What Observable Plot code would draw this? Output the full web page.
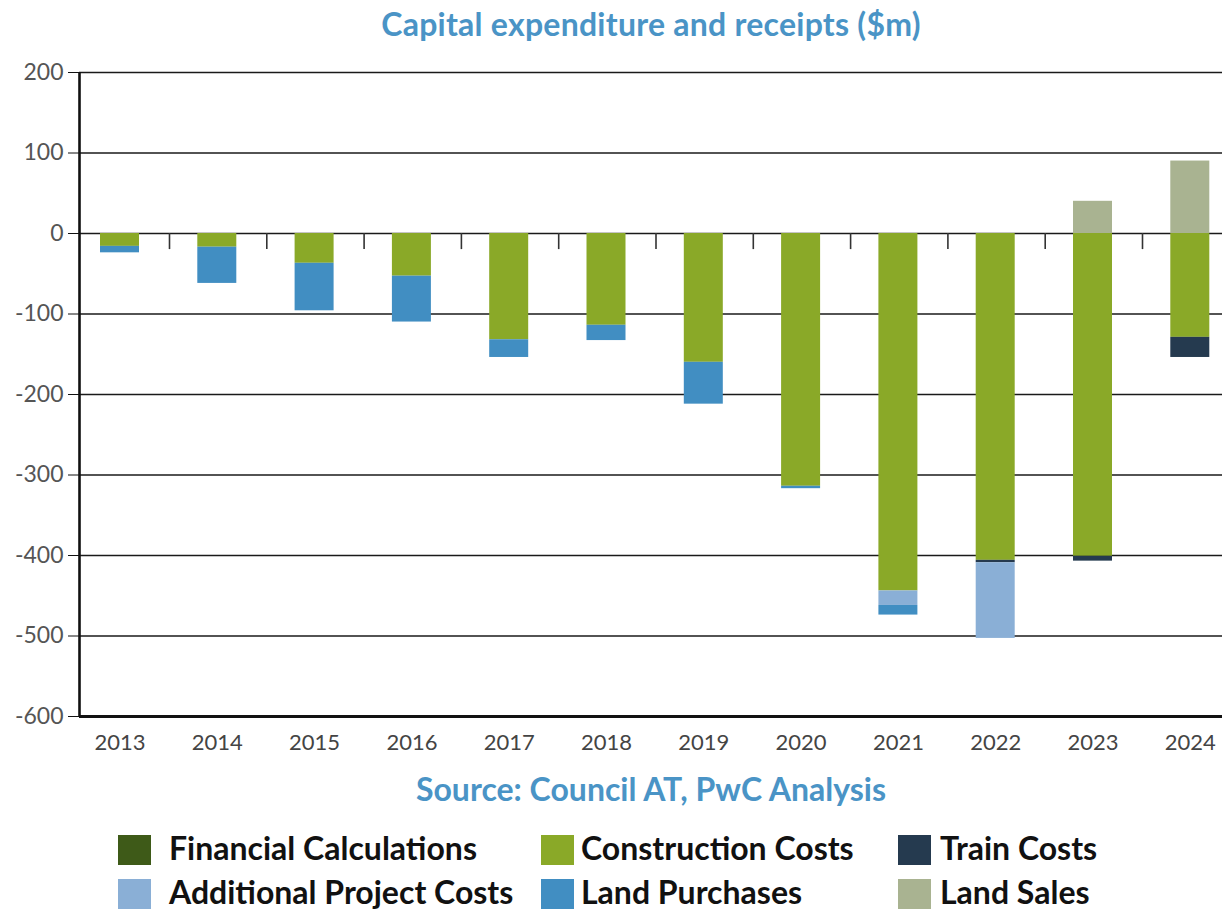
<!DOCTYPE html>
<html>
<head>
<meta charset="utf-8">
<script src="https://cdn.jsdelivr.net/npm/d3@7"></script>
<script src="https://cdn.jsdelivr.net/npm/@observablehq/plot@0.6"></script>
<style>
  html, body { margin: 0; padding: 0; background: white; }
  #page { position: relative; width: 1224px; height: 912px; overflow: hidden; font-family: Lato, "Open Sans", sans-serif; }
  #title { position: absolute; left: 0; top: 3px; width: 1302px; text-align: center; color: #4a94c6; font-weight: 700; font-size: 32px; line-height: 42px; letter-spacing: 0.25px; white-space: nowrap; }
  #chart { position: absolute; left: 0; top: 50px; }
  #source { position: absolute; left: 0; top: 768px; width: 1302px; text-align: center; color: #4a94c6; font-weight: 700; font-size: 32px; line-height: 42px; white-space: nowrap; }
  .sw { position: absolute; width: 33px; height: 30px; }
  .lb { position: absolute; font-weight: 700; font-size: 32px; line-height: 34px; color: #111; white-space: nowrap; }
</style>
</head>
<body>
<div id="page">
  <div id="title">Capital expenditure and receipts ($m)</div>
  <div id="chart"></div>
  <div id="source">Source: Council AT, PwC Analysis</div>
  <div id="legend"></div>
</div>
<script>
const years = ["2013","2014","2015","2016","2017","2018","2019","2020","2021","2022","2023","2024"];
const seriesNames = ["Construction Costs","Train Costs","Financial Calculations","Additional Project Costs","Land Purchases","Land Sales"];
const seriesColors = ["#8aa928","#253a4f","#3e5a18","#8aafd6","#418ec2","#a9b391"];

const constructionCosts      = [-16, -17, -37, -53, -132, -114, -160, -314, -444, -406, -401, -129];
const trainCosts             = [0, 0, 0, 0, 0, 0, 0, 0, 0, -3, -6, -25];
const financialCalculations  = [0, 0, 0, 0, 0, 0, 0, 0, 0, 0, 0, 0];
const additionalProjectCosts = [0, 0, 0, 0, 0, 0, 0, 0, -18, -94, 0, 0];
const landPurchases          = [-8, -45, -59, -57, -22, -19, -52, -3, -12, 0, 0, 0];
const landSales              = [0, 0, 0, 0, 0, 0, 0, 0, 0, 0, 40, 90];

const yTicks = [200, 100, 0, -100, -200, -300, -400, -500, -600];

const seriesValues = [constructionCosts, trainCosts, financialCalculations, additionalProjectCosts, landPurchases, landSales];
const rows = [];
seriesNames.forEach((s, i) => {
  years.forEach((y, j) => rows.push({year: y, series: s, value: seriesValues[i][j]}));
});

const xRange = [70.85, 1238.45];
const step = (xRange[1] - xRange[0]) / years.length;
const firstCenter = xRange[0] + step / 2;

const chart = Plot.plot({
  width: 1224,
  height: 715,
  marginTop: 22,
  marginLeft: 79,
  marginRight: 2,
  marginBottom: 49,
  style: {fontFamily: "Lato, 'Open Sans', sans-serif", fontSize: "23px", color: "#555", background: "white"},
  x: {type: "band", domain: years, range: xRange, paddingInner: 0.5992, paddingOuter: 0.2996, round: false, label: null},
  y: {domain: [-600, 200], label: null},
  color: {domain: seriesNames, range: seriesColors},
  marks: [
    Plot.ruleY(yTicks.filter(d => d > -600), {stroke: "#1a1a1a", strokeWidth: 1.4}),
    Plot.barY(rows, {x: "year", y: "value", fill: "series"}),
    Plot.ruleX(years.slice(0, -1), {x: d => d, y1: 0, y2: -20, dx: 49.5, stroke: "#333", strokeWidth: 1.6}),
    Plot.ruleY([-600], {stroke: "#111", strokeWidth: 3}),
    Plot.ruleX([years[0]], {x: d => d, y1: -600, y2: 200, dx: 79 - firstCenter, stroke: "#111", strokeWidth: 2.6}),
    Plot.axisY({ticks: yTicks, tickSize: 11, tickPadding: 5, stroke: "#111", fill: "#555", fontSize: 23, tickFormat: d => String(d), label: null}),
    Plot.axisX({tickSize: 0, tickPadding: 18, fill: "#444", fontSize: 22, label: null})
  ]
});
document.getElementById("chart").appendChild(chart);

// legend
const legendItems = [
  {name: "Financial Calculations", col: 0, row: 0},
  {name: "Construction Costs", col: 1, row: 0},
  {name: "Train Costs", col: 2, row: 0},
  {name: "Additional Project Costs", col: 0, row: 1},
  {name: "Land Purchases", col: 1, row: 1},
  {name: "Land Sales", col: 2, row: 1}
];
const colSwatch = [118, 541, 898];
const colLabel = [169, 581, 940];
const rowTop = [835, 879];
const legend = document.getElementById("legend");
legendItems.forEach(it => {
  const color = seriesColors[seriesNames.indexOf(it.name)];
  const sw = document.createElement("div");
  sw.className = "sw";
  sw.style.left = colSwatch[it.col] + "px";
  sw.style.top = rowTop[it.row] + "px";
  sw.style.background = color;
  legend.appendChild(sw);
  const lb = document.createElement("div");
  lb.className = "lb";
  lb.style.left = colLabel[it.col] + "px";
  lb.style.top = (rowTop[it.row] - 4) + "px";
  lb.textContent = it.name;
  legend.appendChild(lb);
});
</script>
</body>
</html>
